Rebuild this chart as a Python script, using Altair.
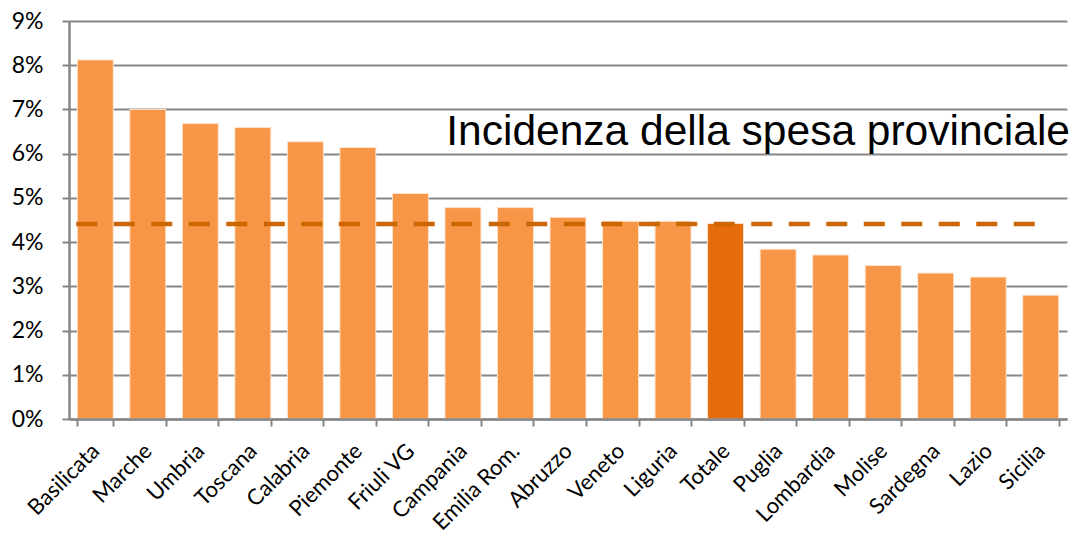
import altair as alt
import pandas as pd

regioni = ["Basilicata", "Marche", "Umbria", "Toscana", "Calabria", "Piemonte",
           "Friuli VG", "Campania", "Emilia Rom.", "Abruzzo", "Veneto", "Liguria",
           "Totale", "Puglia", "Lombardia", "Molise", "Sardegna", "Lazio", "Sicilia"]
incidenza = [8.12, 7.00, 6.68, 6.59, 6.27, 6.14, 5.10, 4.78, 4.78, 4.56, 4.47, 4.47,
             4.42, 3.84, 3.71, 3.47, 3.30, 3.21, 2.80]
media = [4.41]
y_ticks = [0, 1, 2, 3, 4, 5, 6, 7, 8, 9]
titolo = ["Incidenza della spesa provinciale"]

df = pd.DataFrame({
    "regione": regioni,
    "valore": incidenza,
    "tipo": ["totale" if r == "Totale" else "regione" for r in regioni],
})
df_media = pd.DataFrame({"regione": [regioni[0]], "a": [regioni[-1]], "valore": media})
df_titolo = pd.DataFrame({"t": titolo})

GRAY = "#868686"
FONT = "Lato"

x_scale = alt.Scale(domain=regioni, paddingInner=0.315, paddingOuter=0.1575)

x_enc = alt.X(
    "regione:N", sort=None, scale=x_scale,
    axis=alt.Axis(title=None, labelAngle=-45, labelFont=FONT, labelFontSize=22,
                  labelColor="black", tickBand="extent", tickSize=7, tickColor=GRAY,
                  tickWidth=2, domainColor=GRAY, domainWidth=2.5, labelPadding=14,
                  labelOffset=-7, zindex=1),
)
y_enc = alt.Y(
    "valore:Q",
    scale=alt.Scale(domain=[0, 9], nice=False),
    axis=alt.Axis(title=None, values=y_ticks, labelExpr="datum.value + '%'",
                  labelFont=FONT, labelFontSize=23, labelColor="black",
                  tickSize=7, tickColor=GRAY, tickWidth=2, domainColor=GRAY,
                  domainWidth=2.5, gridColor=GRAY, gridWidth=1.8, labelPadding=19),
)

bars = alt.Chart(df).mark_bar(stroke="#fde3cf", strokeWidth=1).encode(
    x=x_enc,
    y=y_enc,
    color=alt.Color("tipo:N", scale=alt.Scale(domain=["regione", "totale"],
                                               range=["#F79646", "#E46C0A"]), legend=None),
)

linea = alt.Chart(df_media).mark_rule(
    color="#CC6600", strokeWidth=4.5, strokeDash=[21, 16.5], xOffset=-19, x2Offset=0
).encode(
    x=alt.X("regione:N", sort=None, scale=x_scale),
    x2="a:N",
    y="valore:Q",
)

testo = alt.Chart(df_titolo).mark_text(
    align="right", baseline="alphabetic", font="Liberation Sans", fontSize=42.5, color="black"
).encode(
    x=alt.value(1001), y=alt.value(124), text="t:N"
)

chart = alt.layer(bars, linea, testo).properties(
    width=998, height=398,
    autosize=alt.AutoSizeParams(type="none"),
    padding={"left": 61, "top": 13, "right": 3, "bottom": 112},
).configure_view(stroke=None)

chart.save("out.html", embed_options={"renderer": "svg", "actions": False})
